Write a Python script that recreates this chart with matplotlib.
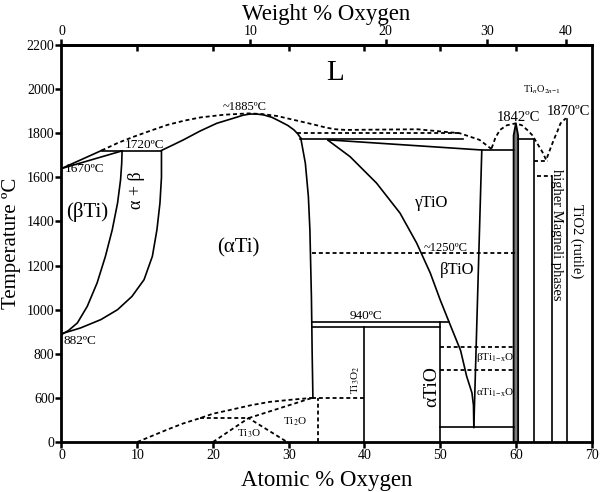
import numpy as np
import matplotlib
matplotlib.use('Agg')
import matplotlib.pyplot as plt

plt.rcParams['font.family'] = ['Liberation Serif', 'DejaVu Serif']
plt.rcParams['mathtext.fontset'] = 'stix'

# ---- phase boundaries (atomic % O, temperature in C) ----
beta_liq_a = [0, 5.3]
beta_liq_T = [1640, 1722]
beta_sol_a = [0, 8.0]
beta_sol_T = [1640, 1720]
peri_1720_a = [5.3, 13.2]
peri_1720_T = [1720, 1720]

beta_left_a = [8.0, 7.95, 7.8, 7.4, 6.7, 5.8, 4.7, 3.4, 2.1, 0.9, 0]
beta_left_T = [1720, 1664, 1589, 1483, 1362, 1242, 1121, 1015, 940, 905, 888]
beta_right_a = [13.2, 13.2, 13.0, 12.6, 12.0, 10.9, 9.3, 7.4, 5.2, 2.5, 0.3, 0]
beta_right_T = [1720, 1600, 1483, 1362, 1242, 1136, 1060, 1000, 955, 917, 894, 888]

alpha_dome_a = [13.2, 14.6, 16.1, 18.3, 20.5, 22.7, 24.0, 24.9, 25.8, 26.7, 27.8, 28.9, 29.9, 30.7, 31.2, 31.6]
alpha_dome_T = [1722, 1745, 1770, 1810, 1845, 1868, 1882, 1887, 1887, 1883, 1872, 1853, 1835, 1815, 1797, 1777]
alpha_edge_a = [31.6, 32.2, 32.6, 32.8, 32.9, 33.0, 33.05, 33.1, 33.2]
alpha_edge_T = [1777, 1664, 1513, 1362, 1211, 1060, 940, 800, 600]

liq1_a = [5.3, 7.5, 9.6, 11.8, 14.0, 16.2, 18.4, 21.5, 24.7, 26.5, 28.5, 30.0, 32.0, 33.5, 35.0, 36.2,
          37.5, 47.0, 52.6, 55.2, 56.8]
liq1_T = [1722, 1757, 1785, 1812, 1838, 1857, 1872, 1884, 1890, 1887, 1878, 1866, 1850, 1838, 1825, 1818,
          1815, 1818, 1800, 1770, 1728]
liq2_a = [31.1, 52.6]
liq2_T = [1800, 1800]

top_flat_a = [31.5, 53.0]
top_flat_T = [1772, 1772]
gamma_sol_a = [35.2, 55.5, 59.7]
gamma_sol_T = [1770, 1724, 1724]
gamma_edge_a = [55.5, 54.45]
gamma_edge_T = [1724, 200]

btio_a = [35.2, 38.1, 41.6, 44.7, 46.9, 48.7, 50.0, 51.2, 52.7, 53.5, 54.2, 54.4, 54.45]
btio_T = [1768, 1694, 1574, 1438, 1302, 1166, 1045, 942, 815, 698, 623, 500, 200]

line_940_a = [33.05, 51.2]
line_940_T = [943, 943]
line_920_a = [33.05, 50.0]
line_920_T = [922, 922]
ti3o2_a = [40, 40]
ti3o2_T = [922, 0]
atio_a = [50, 50]
atio_T = [943, 0]
low_200_a = [50, 59.7]
low_200_T = [200, 200]

dash_1250_a = [33.1, 60]
dash_1250_T = [1257, 1257]
dash_829_a = [50, 59.7]
dash_829_T = [829, 829]
dash_725_a = [50, 59.7]
dash_725_T = [725, 725]

spike_a = [59.7, 59.7, 60.0, 60.3, 60.3]
spike_T = [0, 1790, 1845, 1790, 0]

box_a = [60.3, 62.4, 62.4]
box_T = [1774, 1774, 0]
magneli_a = [64.8, 64.8]
magneli_T = [1604, 0]
rutile_a = [66.7, 66.7]
rutile_T = [1866, 0]
dash_1604_a = [62.8, 64.8]
dash_1604_T = [1604, 1604]
dash_1675_a = [62.4, 64.2]
dash_1675_T = [1675, 1675]
liq_right_a = [56.8, 57.3, 57.9, 58.8, 60.0, 60.8, 61.5, 62.2, 62.8, 63.5, 64.0, 64.5, 65.0, 65.5, 65.9, 66.6]
liq_right_T = [1732, 1780, 1815, 1836, 1845, 1836, 1815, 1790, 1755, 1715, 1679, 1725, 1770, 1810, 1845, 1868]

# low temperature region (below 600 C, compressed scale)
low_curve_a = [10, 12, 14, 16, 18.3, 20, 22, 25, 27.5, 30.5, 33.1]
low_curve_T = [0, 85, 170, 250, 325, 385, 430, 500, 546, 577, 600]
ti3o_a = [20, 24.7, 29.8]
ti3o_T = [0, 325, 0]
ti3o_flat_a = [18.3, 24.7]
ti3o_flat_T = [325, 325]
ti2o_edge_a = [24.7, 33.1]
ti2o_edge_T = [325, 600]
dash_v34_a = [33.9, 33.9]
dash_v34_T = [0, 600]
dash_600_a = [33.1, 40]
dash_600_T = [600, 600]

y_ticks = [0, 600, 800, 1000, 1200, 1400, 1600, 1800, 2000, 2200]
x_ticks = [0, 10, 20, 30, 40, 50, 60, 70]
wt_ticks = [0, 10, 20, 30, 40]


def fwd(t):
    t = np.asarray(t, dtype=float)
    return np.where(t < 600, 400 + t / 3.0, t)


def inv(y):
    y = np.asarray(y, dtype=float)
    return np.where(y < 600, (y - 400) * 3.0, y)


def at2wt(a):
    a = np.asarray(a, dtype=float)
    return 16 * a / (16 * a + 47.87 * (100 - a)) * 100


def wt2at(w):
    w = np.asarray(w, dtype=float)
    return (w / 16) / (w / 16 + (100 - w) / 47.87) * 100


fig = plt.figure(figsize=(6, 4.92), dpi=100)
ax = fig.add_axes([0.1025, 0.1016, 0.8835, 0.8069])
ax.set_yscale('function', functions=(fwd, inv))
ax.set_xlim(0, 70)
ax.set_ylim(0, 2200)

solid = dict(color='black', lw=1.2)
dash = dict(color='black', lw=1.3, ls=(0, (2.2, 1.6)))

for xa, ta in [(beta_liq_a, beta_liq_T), (beta_sol_a, beta_sol_T), (peri_1720_a, peri_1720_T),
               (beta_left_a, beta_left_T), (beta_right_a, beta_right_T),
               (alpha_dome_a, alpha_dome_T), (alpha_edge_a, alpha_edge_T),
               (top_flat_a, top_flat_T), (gamma_sol_a, gamma_sol_T), (gamma_edge_a, gamma_edge_T),
               (btio_a, btio_T), (line_940_a, line_940_T), (line_920_a, line_920_T),
               (ti3o2_a, ti3o2_T), (atio_a, atio_T), (low_200_a, low_200_T),
               (box_a, box_T), (magneli_a, magneli_T), (rutile_a, rutile_T)]:
    ax.plot(xa, ta, **solid)

for xa, ta in [(liq1_a, liq1_T), (liq2_a, liq2_T), (dash_1250_a, dash_1250_T),
               (dash_829_a, dash_829_T), (dash_725_a, dash_725_T),
               (dash_1604_a, dash_1604_T), (dash_1675_a, dash_1675_T), (liq_right_a, liq_right_T),
               (low_curve_a, low_curve_T), (ti3o_a, ti3o_T), (ti3o_flat_a, ti3o_flat_T),
               (ti2o_edge_a, ti2o_edge_T), (dash_v34_a, dash_v34_T), (dash_600_a, dash_600_T)]:
    ax.plot(xa, ta, **dash)

ax.fill(spike_a, spike_T, facecolor='#7a7a7a', edgecolor='black', lw=1.3)

# ---- labels ----
ax.text(36.1, 2073, 'L', fontsize=21, ha='center', va='center')
ax.text(3.4, 1445, '(βTi)', fontsize=15, ha='center', va='center')
ax.text(9.9, 1543, 'α + β', fontsize=13, ha='center', va='center', rotation=90)
ax.text(23.3, 1279, '(αTi)', fontsize=15, ha='center', va='center')
ax.text(48.9, 1483, 'γTiO', fontsize=12, ha='center', va='center')
ax.text(52.2, 1181, 'βTiO', fontsize=12, ha='center', va='center')
ax.text(48.9, 652, 'αTiO', fontsize=14, ha='center', va='center', rotation=90)
ax.text(38.8, 683, 'Ti$_3$O$_2$', fontsize=8, ha='center', va='center', rotation=90)
ax.text(57.3, 781, 'βTi$_{1\\mathregular{-x}}$O', fontsize=8, ha='center', va='center')
ax.text(57.3, 622, 'αTi$_{1\\mathregular{-x}}$O', fontsize=8, ha='center', va='center')
ax.text(24.7, 118, 'Ti$_3$O', fontsize=8, ha='center', va='center')
ax.text(30.8, 275, 'Ti$_2$O', fontsize=8, ha='center', va='center')
ax.text(63.4, 1996, 'Ti$_n$O$_{2n\\mathregular{-1}}$', fontsize=7.5, ha='center', va='center')
ax.text(65.4, 1340, 'higher Magneli phases', fontsize=10.5, ha='center', va='center', rotation=-90)
ax.text(68.0, 1309, 'TiO2 (rutile)', fontsize=10.5, ha='center', va='center', rotation=-90)

ax.text(24.2, 1918, '~1885ºC', fontsize=9, ha='center', va='center')
ax.text(11.0, 1747, '1720ºC', fontsize=9.5, ha='center', va='center')
ax.text(3.0, 1637, '1670ºC', fontsize=9.5, ha='center', va='center')
ax.text(2.4, 856, '882ºC', fontsize=9.5, ha='center', va='center')
ax.text(50.7, 1279, '~1250ºC', fontsize=9, ha='center', va='center')
ax.text(40.2, 970, '940ºC', fontsize=9.5, ha='center', va='center')
ax.text(60.3, 1870, '1842ºC', fontsize=10.5, ha='center', va='center')
ax.text(66.9, 1898, '1870ºC', fontsize=10.5, ha='center', va='center')

# ---- axes ----
ax.set_xticks(x_ticks)
ax.set_yticks(y_ticks)
ax.set_yticklabels([str(v) for v in y_ticks])
ax.tick_params(axis='both', direction='out', length=4, width=1.8, labelsize=10, pad=1)
ax.tick_params(axis='x', top=False)
for s in ax.spines.values():
    s.set_linewidth(2.0)

ax.set_xlabel('Atomic % Oxygen', fontsize=16.5, labelpad=6)
ax.set_ylabel('Temperature ºC', fontsize=15, labelpad=4)

# inward ticks on top spine at atomic %
top_in = ax.secondary_xaxis('top')
top_in.set_xticks(x_ticks[1:-1])
top_in.tick_params(direction='in', length=4, width=1.8, labeltop=False)
top_in.spines['top'].set_visible(False)

wt = ax.secondary_xaxis('top', functions=(at2wt, wt2at))
wt.set_xticks(wt_ticks)
wt.tick_params(direction='out', length=4, width=1.8, labelsize=10, pad=1)
wt.spines['top'].set_linewidth(2.0)
wt.set_xlabel('Weight % Oxygen', fontsize=16.5, labelpad=4)

fig.savefig('out.png', dpi=100)
